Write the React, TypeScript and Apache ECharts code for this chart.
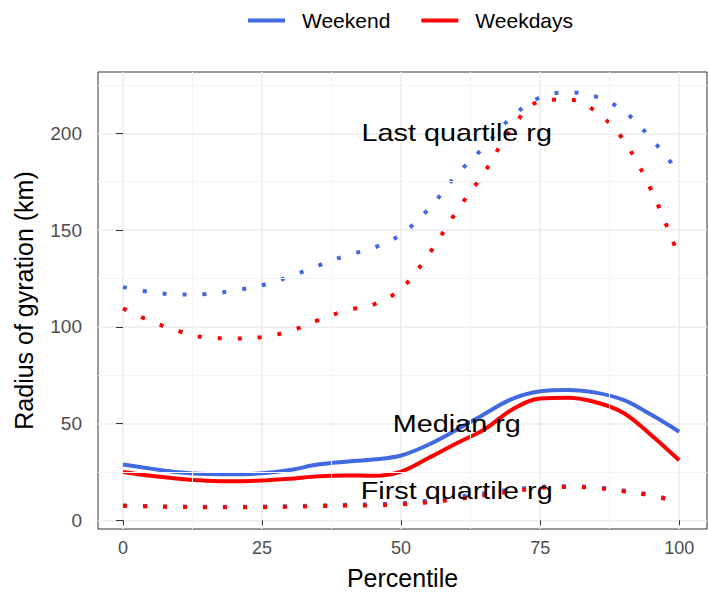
import React, { useEffect, useRef } from "react";
import * as echarts from "echarts";

// Percentile positions at which the curves were read
const percentiles = [0, 5, 10, 15, 20, 25, 30, 35, 40, 45, 50, 55, 60, 65, 70, 75, 80, 85, 90, 95, 100];

// Weekend (blue)
const weekendLastQuartile = [120.5, 118, 116.7, 116.9, 118.8, 121.5, 126, 131.5, 136.7, 140.8, 147.8, 161, 178.6, 193.2, 208.8, 218.6, 221.2, 219, 211.6, 197.2, 179.5];
const weekendMedian = [28.8, 26.7, 24.8, 23.9, 23.8, 24.3, 26, 28.8, 30.3, 31.4, 33.5, 39.2, 46.8, 55, 62.8, 66.7, 67.4, 66, 62.2, 54.5, 45.8];
const weekendFirstQuartile = [7.7, 7.3, 7.1, 7, 7, 7.1, 7.3, 7.6, 8, 8.3, 8.9, 10.2, 12, 14, 15.9, 17.3, 17.6, 17, 15.4, 13.1, 9.6];

// Weekdays (red)
const weekdaysLastQuartile = [109.5, 102.9, 97.8, 94.4, 94, 94.7, 97.8, 103.3, 108.4, 111.5, 119.6, 137.6, 159.8, 180, 203.1, 216.6, 217.5, 211.3, 196.4, 170.5, 136];
const weekdaysMedian = [25, 23, 21.5, 20.5, 20.2, 20.6, 21.5, 22.7, 23.2, 23, 25.2, 32.3, 39.8, 47, 57.3, 63, 63.3, 61, 55.5, 44, 31];
const weekdaysFirstQuartile = [7.5, 7.1, 6.9, 6.8, 6.8, 6.8, 7, 7.3, 7.6, 7.7, 8.2, 9.3, 10.9, 12.9, 14.9, 16.7, 17.2, 16.7, 15, 12.8, 9.2];

// Axes
const xTicks = [0, 25, 50, 75, 100];
const yTicks = [0, 50, 100, 150, 200];
const xMinor = [12.5, 37.5, 62.5, 87.5];
const yMinor = [25, 75, 125, 175, 225];

// Annotations
const annotationLabels = ["Last quartile rg", "Median rg", "First quartile rg"];
const annotationX = [60, 60, 60];
const annotationY = [200, 50, 15];

const BLUE = "#4169E1";
const RED = "#FF0000";
const FONT = "'Liberation Sans', Arial, Helvetica, sans-serif";

export default function App() {
  const ref = useRef<HTMLDivElement>(null);

  useEffect(() => {
    if (!ref.current) return;
    const chart = echarts.init(ref.current, undefined, { renderer: "svg" });
    const zip = (ys: number[]) => percentiles.map((x, i) => [x, ys[i]]);
    const mk = (name: string, color: string, ys: number[], dotted: boolean) => ({
      type: "line",
      name,
      data: zip(ys),
      smooth: 0.35,
      showSymbol: false,
      symbol: "none",
      silent: true,
      z: 3,
      itemStyle: { color },
      lineStyle: { color, width: 4, type: dotted ? [4, 16] : "solid", cap: "butt" },
    });

    chart.setOption({
      animation: false,
      backgroundColor: "#ffffff",
      textStyle: { fontFamily: FONT },
      legend: {
        data: ["Weekend", "Weekdays"],
        left: 243,
        top: 5,
        icon: "rect",
        itemWidth: 37,
        itemHeight: 4,
        itemGap: 31,
        textStyle: { fontSize: 21, color: "#000", fontFamily: FONT, padding: [0, 0, 0, 12] },
      },
      grid: {
        left: 98,
        right: 1,
        top: 72,
        bottom: 66,
        show: true,
        borderColor: "#333333",
        borderWidth: 1,
        backgroundColor: "transparent",
      },
      xAxis: {
        type: "value",
        min: -4.5,
        max: 105,
        axisLine: { show: false },
        axisTick: { show: true, length: 5, lineStyle: { color: "#333333", width: 1 }, customValues: xTicks },
        axisLabel: { customValues: xTicks, color: "#4D4D4D", fontSize: 18, margin: 10, fontFamily: FONT },
        splitLine: { show: true, lineStyle: { color: "#EBEBEB", width: 1.5 } },
        name: "Percentile",
        nameLocation: "middle",
        nameGap: 36,
        nameTextStyle: { fontSize: 25, color: "#000", fontFamily: FONT },
      },
      yAxis: {
        type: "value",
        min: -4.5,
        max: 231.7,
        axisLine: { show: false },
        axisTick: { show: true, length: 7, lineStyle: { color: "#333333", width: 1 }, customValues: yTicks },
        axisLabel: { customValues: yTicks, color: "#4D4D4D", fontSize: 19, margin: 16, fontFamily: FONT },
        splitLine: { show: true, lineStyle: { color: "#EBEBEB", width: 1.5 } },
        name: "Radius of gyration (km)",
        nameLocation: "middle",
        nameRotate: 90,
        nameGap: 62,
        nameTextStyle: { fontSize: 25, color: "#000", fontFamily: FONT },
      },
      series: [
        {
          type: "line",
          name: "minor-grid",
          data: [],
          silent: true,
          z: 1,
          markLine: {
            silent: true,
            symbol: ["none", "none"],
            label: { show: false },
            lineStyle: { color: "#F4F4F4", width: 1, type: "solid" },
            data: [...xMinor.map((v) => ({ xAxis: v })), ...yMinor.map((v) => ({ yAxis: v }))],
          },
        },
        mk("Weekend", BLUE, weekendLastQuartile, true),
        mk("Weekend", BLUE, weekendMedian, false),
        mk("Weekend", BLUE, weekendFirstQuartile, true),
        mk("Weekdays", RED, weekdaysLastQuartile, true),
        mk("Weekdays", RED, weekdaysMedian, false),
        mk("Weekdays", RED, weekdaysFirstQuartile, true),
      ],
    });

    const graphics = annotationLabels.map((t, i) => {
      const p = chart.convertToPixel({ gridIndex: 0 }, [annotationX[i], annotationY[i]]) as number[];
      return {
        type: "text",
        x: p[0],
        y: p[1],
        scaleX: 1.2,
        z: 100,
        silent: true,
        style: {
          text: t,
          fontSize: 24,
          fill: "#000",
          align: "center",
          verticalAlign: "middle",
          fontFamily: FONT,
        },
      };
    });
    chart.setOption({ graphic: graphics });

    return () => chart.dispose();
  }, []);

  return (
    <div
      ref={ref}
      style={{ position: "fixed", left: 0, top: 0, width: 708, height: 595, background: "#fff" }}
    />
  );
}
